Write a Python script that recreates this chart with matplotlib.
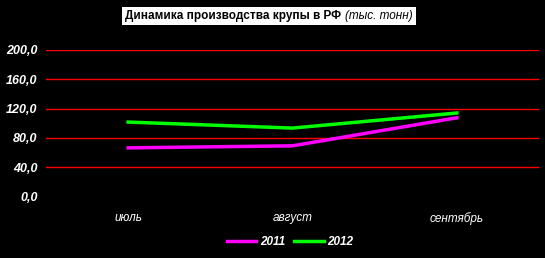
import matplotlib
matplotlib.use("Agg")
import matplotlib.pyplot as plt

months = ["июль", "август", "сентябрь"]
y2011 = [66.4, 69.2, 107.5]
y2012 = [101.6, 93.4, 114.0]
yticks = [0, 40, 80, 120, 160, 200]
ytick_labels = ["0,0", "40,0", "80,0", "120,0", "160,0", "200,0"]

plt.rcParams["font.family"] = ["Liberation Sans", "DejaVu Sans"]

fig = plt.figure(figsize=(5.45, 2.58), dpi=100, facecolor="black")
ax = fig.add_axes([46 / 545, (258 - 196.5) / 258, (539 - 46) / 545, (196.5 - 50) / 258])
ax.set_facecolor("black")

x = list(range(len(months)))
for yv in yticks[1:]:
    ax.axhline(yv, color="#ff0000", lw=1.0, zorder=1)
ax.plot(x, y2011, color="#ff00ff", lw=2.5, label="2011", zorder=3)
ax.plot(x, y2012, color="#00ff00", lw=2.5, label="2012", zorder=3)

ax.set_xlim(-0.5, 2.5)
ax.set_ylim(0, 200)
ax.set_xticks(x)
ax.set_xticklabels(months, color="white", style="italic", fontsize=8.5)
ax.set_yticks(yticks)
ax.set_yticklabels(ytick_labels, color="white", style="italic", weight="bold", fontsize=9)
ax.tick_params(axis="x", length=0, pad=11)
ax.tick_params(axis="y", length=0, pad=6)
for s in ax.spines.values():
    s.set_visible(False)

leg = fig.legend(loc="center", bbox_to_anchor=(290 / 545, 1 - 242 / 258), ncol=2,
                 frameon=False, handlelength=2.5, columnspacing=0.8, handletextpad=0.3,
                 prop={"style": "italic", "weight": "bold", "size": 8.5})
for t in leg.get_texts():
    t.set_color("white")

# title: bold part + italic part on a white box
t1 = fig.text(125 / 545, 1 - 19 / 258, "Динамика производства крупы в РФ", color="black",
              weight="bold", fontsize=8.5, va="baseline", ha="left", zorder=5,
              bbox=dict(facecolor="white", edgecolor="none", pad=2))
fig.canvas.draw()
bb = t1.get_window_extent()
fig.text((bb.x1 + 4) / fig.bbox.width, 1 - 19 / 258, "(тыс. тонн)", color="black",
         style="italic", fontsize=8.5, va="baseline", ha="left", zorder=4,
         bbox=dict(facecolor="white", edgecolor="none", pad=2))

fig.savefig("out.png", dpi=100, facecolor="black")
